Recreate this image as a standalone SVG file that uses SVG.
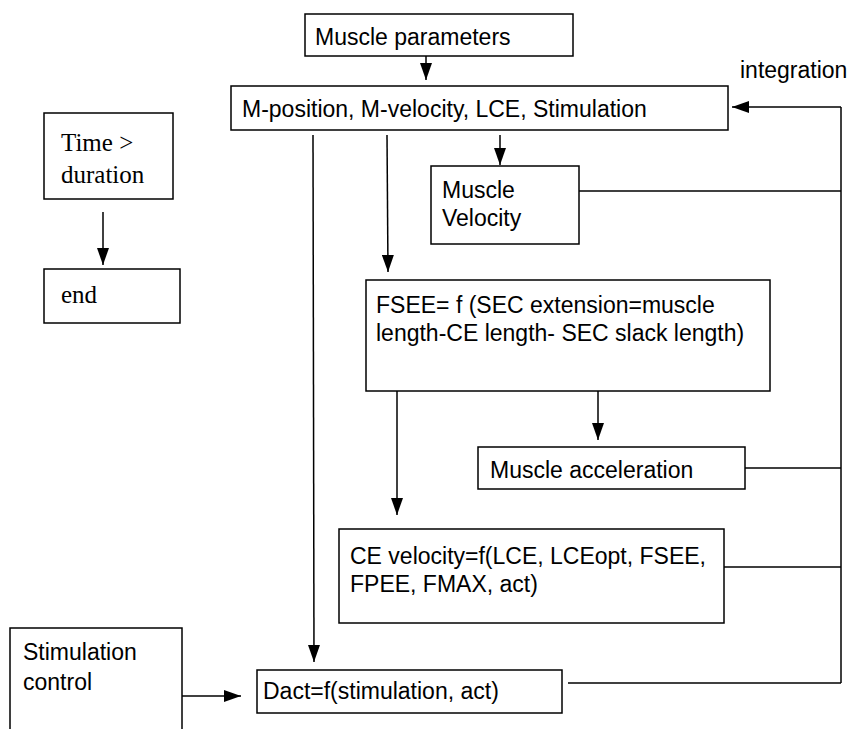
<svg xmlns="http://www.w3.org/2000/svg" width="848" height="729" viewBox="0 0 848 729">
<style>
.box{fill:#fff;stroke:#000;stroke-width:1.5}
.t{font-family:"Liberation Sans",Arial,sans-serif;font-size:23px;fill:#000}
.s{font-family:"Liberation Serif","Times New Roman",serif;font-size:25px;fill:#000}
.c{stroke:#000;stroke-width:1.5;fill:none}
</style>
<defs>
<marker id="ah" markerUnits="userSpaceOnUse" markerWidth="17" markerHeight="12" refX="17" refY="6" orient="auto">
<path d="M0,0 L17,6 L0,12 z" fill="#000"/>
</marker>
</defs>
<rect width="848" height="729" fill="#fff"/>
<g id="connectors">
<line class="c" x1="426" y1="56" x2="426" y2="80" marker-end="url(#ah)"/>
<line class="c" x1="500" y1="135" x2="500" y2="165" marker-end="url(#ah)"/>
<line class="c" x1="387" y1="135" x2="388" y2="272" marker-end="url(#ah)"/>
<line class="c" x1="313" y1="135" x2="314" y2="662" marker-end="url(#ah)"/>
<line class="c" x1="598" y1="391" x2="598" y2="440" marker-end="url(#ah)"/>
<line class="c" x1="397" y1="391" x2="397" y2="515" marker-end="url(#ah)"/>
<line class="c" x1="182" y1="696" x2="241" y2="696" marker-end="url(#ah)"/>
<line class="c" x1="103" y1="212" x2="103" y2="265" marker-end="url(#ah)"/>
<line class="c" x1="579" y1="191" x2="841" y2="191"/>
<line class="c" x1="745" y1="468" x2="841" y2="468"/>
<line class="c" x1="724" y1="567" x2="841" y2="567"/>
<line class="c" x1="568" y1="683" x2="841" y2="683"/>
<line class="c" x1="841" y1="683" x2="841" y2="107"/>
<line class="c" x1="841" y1="107" x2="732" y2="107" marker-end="url(#ah)"/>
</g>
<g id="muscle-parameters">
<rect class="box" x="305" y="14" width="268" height="42"/>
<text class="t" x="315" y="45">Muscle parameters</text>
</g>
<g id="state">
<rect class="box" x="231" y="86" width="497" height="44"/>
<text class="t" x="242" y="117">M-position, M-velocity, LCE, Stimulation</text>
</g>
<g id="integration-label">
<text class="t" x="740" y="78">integration</text>
</g>
<g id="time-duration">
<rect class="box" x="44" y="113" width="129" height="86"/>
<text class="s" x="61" y="151">Time &gt;</text>
<text class="s" x="61" y="183">duration</text>
</g>
<g id="end">
<rect class="box" x="44" y="269" width="136" height="54"/>
<text class="s" x="61" y="303">end</text>
</g>
<g id="muscle-velocity">
<rect class="box" x="431" y="166" width="148" height="78"/>
<text class="t" x="442" y="198">Muscle</text>
<text class="t" x="442" y="226">Velocity</text>
</g>
<g id="fsee">
<rect class="box" x="366" y="280" width="404" height="111"/>
<text class="t" x="376" y="313">FSEE= f (SEC extension=muscle</text>
<text class="t" x="376" y="341">length-CE length- SEC slack length)</text>
</g>
<g id="muscle-acceleration">
<rect class="box" x="478" y="447" width="267" height="42"/>
<text class="t" x="490" y="478">Muscle acceleration</text>
</g>
<g id="ce-velocity">
<rect class="box" x="339" y="529" width="385" height="94"/>
<text class="t" x="350" y="564">CE velocity=f(LCE, LCEopt, FSEE,</text>
<text class="t" x="350" y="592">FPEE, FMAX, act)</text>
</g>
<g id="stimulation-control">
<rect class="box" x="10" y="628" width="172" height="110"/>
<text class="t" x="23" y="660">Stimulation</text>
<text class="t" x="23" y="690">control</text>
</g>
<g id="dact">
<rect class="box" x="257" y="670" width="305" height="43"/>
<text class="t" x="263" y="699">Dact=f(stimulation, act)</text>
</g>
</svg>
